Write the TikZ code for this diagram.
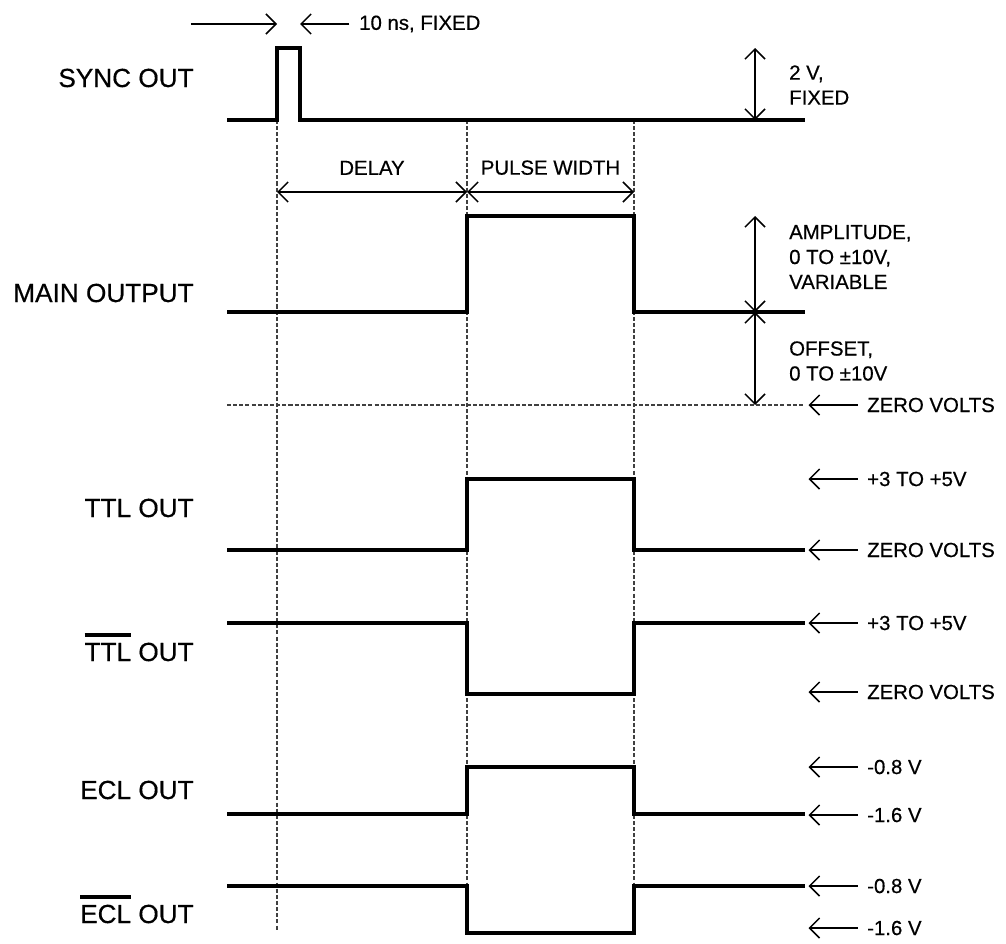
\documentclass[tikz,border=0pt]{standalone}
\usepackage{fontspec}
\setmainfont{Liberation Sans}[FakeBold=0.5]
\usetikzlibrary{arrows.meta}

\newcommand{\sigfont}{\fontsize{14.9}{17}\selectfont}
\newcommand{\lvlfont}{\fontsize{11.6}{14.2}\selectfont}
\newcommand{\barred}[1]{\setbox0\hbox{#1}\rlap{\rule[0.92em]{\wd0}{0.15em}}\box0\relax}

\begin{document}
\begin{tikzpicture}[x=0.02cm,y=-0.02cm,
  wave/.style={line width=2.2pt,line join=miter},
  guide/.style={line width=0.6pt,dash pattern=on 2.3pt off 1.2pt,black!75},
  dim/.style={line width=0.85pt,{Straight Barb[length=2mm,width=4mm]}-{Straight Barb[length=2mm,width=4mm]}},
  ptr/.style={line width=0.85pt,-{Straight Barb[length=2mm,width=4mm]}},
  sig/.style={anchor=base east,font=\sigfont,inner sep=0pt},
  lvl/.style={anchor=west,font=\lvlfont},
  note/.style={anchor=west,align=left,font=\lvlfont}]

\useasboundingbox (0,0) rectangle (1006,943);

% Signal names
\node[sig] (sync) at (194,87) {SYNC OUT};
\node[sig] (mainout) at (194,302) {MAIN OUTPUT};
\node[sig] (ttl) at (194,517) {TTL OUT};
\node[sig] (ttlbar) at (194,661) {\barred{TTL} OUT};
\node[sig] (ecl) at (194,799) {ECL OUT};
\node[sig] (eclbar) at (194,923) {\barred{ECL} OUT};

% Timing guides
\draw[guide] (277,120) -- (277,930);
\draw[guide] (467,120) -- (467,886);
\draw[guide] (634,120) -- (634,886);
\draw[guide] (227,405) -- (805,405);

% Waveforms
\draw[wave] (227,120) -- (277,120) -- (277,48) -- (300,48) -- (300,120) -- (805,120);
\draw[wave] (227,312) -- (467,312) -- (467,216) -- (634,216) -- (634,312) -- (805,312);
\draw[wave] (227,550) -- (467,550) -- (467,479) -- (634,479) -- (634,550) -- (805,550);
\draw[wave] (227,623) -- (467,623) -- (467,694) -- (634,694) -- (634,623) -- (805,623);
\draw[wave] (227,814) -- (467,814) -- (467,767) -- (634,767) -- (634,814) -- (805,814);
\draw[wave] (227,886) -- (467,886) -- (467,933) -- (634,933) -- (634,886) -- (805,886);

% Sync pulse width
\coordinate (pl) at (277,24);
\coordinate (pr) at (300,24);
\node[lvl] (width) at (353,24) {10 ns, FIXED};
\draw[ptr] ([xshift=-49]pl) -- (pl);
\draw[ptr] ([xshift=-2pt]width.west) -- (pr);

% Delay and pulse width
\coordinate (d0) at (277,192);
\coordinate (d1) at (467,192);
\coordinate (d2) at (634,192);
\draw[dim] (d0) -- (d1) node[midway,above=6pt,font=\lvlfont] {DELAY};
\draw[dim] (d1) -- (d2) node[midway,above=6pt,font=\lvlfont] {PULSE WIDTH};

% Amplitudes
\coordinate (s0) at (755,120);
\coordinate (s1) at (755,48);
\draw[dim] (s1) -- (s0);
\node[note] (syncamp) at (783,85) {2 V,\\FIXED};
\coordinate (m0) at (755,405);
\coordinate (m1) at (755,312);
\coordinate (m2) at (755,216);
\draw[dim] (m2) -- (m1);
\draw[dim] (m1) -- (m0);
\node[note] (amp) at (783,257) {AMPLITUDE,\\0 TO ±10V,\\VARIABLE};
\node[note] (offset) at (783,361) {OFFSET,\\0 TO ±10V};

% Levels
\node[lvl] (zero) at (861,405) {ZERO VOLTS};
\node[lvl] (ttlhi) at (861,479) {+3 TO +5V};
\node[lvl] (ttllo) at (861,550) {ZERO VOLTS};
\node[lvl] (ttlbarhi) at (861,623) {+3 TO +5V};
\node[lvl] (ttlbarlo) at (861,692) {ZERO VOLTS};
\node[lvl] (eclhi) at (861,767) {-0.8 V};
\node[lvl] (ecllo) at (861,815) {-1.6 V};
\node[lvl] (eclbarhi) at (861,886) {-0.8 V};
\node[lvl] (eclbarlo) at (861,928) {-1.6 V};
\foreach \lv in {zero,ttlhi,ttllo,ttlbarhi,ttlbarlo,eclhi,ecllo,eclbarhi,eclbarlo}
  \draw[ptr] ([xshift=-2pt]\lv.west) -- ++(-49,0);

\end{tikzpicture}
\end{document}
